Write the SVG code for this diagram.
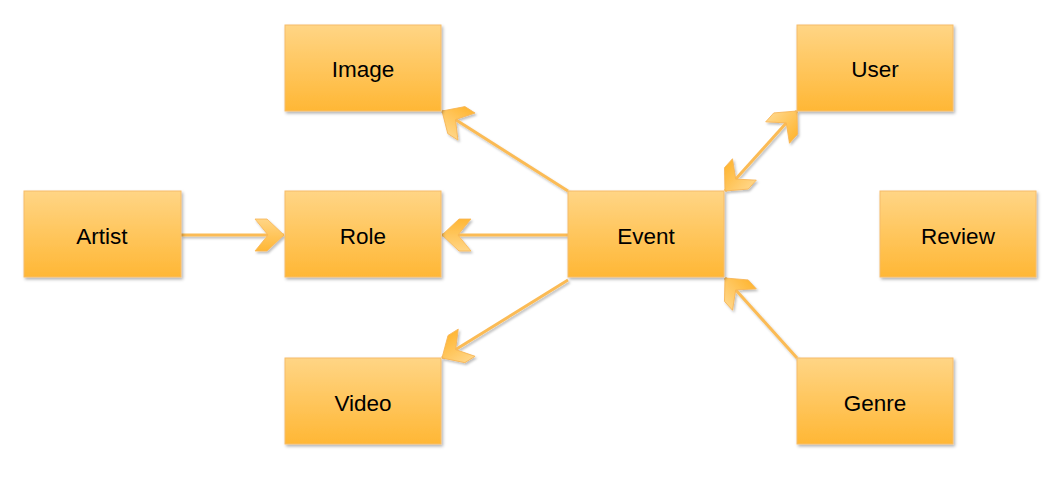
<svg xmlns="http://www.w3.org/2000/svg" width="1061" height="479" viewBox="0 0 1061 479">
<defs>
<linearGradient id="g" x1="0" y1="0" x2="0" y2="1">
<stop offset="0" stop-color="#FFD585"/>
<stop offset="1" stop-color="#FFB735"/>
</linearGradient>
<filter id="sh" x="-10%" y="-10%" width="130%" height="130%">
<feDropShadow dx="1.5" dy="2" stdDeviation="1.5" flood-color="#000" flood-opacity="0.3"/>
</filter>
<filter id="shl" filterUnits="userSpaceOnUse" x="0" y="0" width="1061" height="479">
<feDropShadow dx="1.5" dy="2" stdDeviation="1.2" flood-color="#000" flood-opacity="0.25"/>
</filter>
<marker id="a" markerUnits="userSpaceOnUse" markerWidth="40" markerHeight="40" viewBox="-32 -20 36 40" refX="0" refY="0" orient="auto-start-reverse">
<path d="M0,0 L-17,-16 L-29,-16 L-16,0 L-29,16 L-17,16 Z" fill="url(#g)" stroke="#F7B555" stroke-width="0.8"/>
</marker>
<style>
.box{fill:url(#g);stroke:#F6BC6A;stroke-width:1;filter:url(#sh)}
.t{font-family:"Liberation Sans",Arial,sans-serif;font-size:22.5px;fill:#000;text-anchor:middle;dominant-baseline:central}
.c{stroke:#FBBB55;stroke-width:3;fill:none}
</style>
</defs>
<g id="connectors" filter="url(#shl)">
<line class="c" x1="181" y1="235" x2="284" y2="235" marker-end="url(#a)"/>
<line class="c" x1="568" y1="235" x2="442" y2="235" marker-end="url(#a)"/>
<line class="c" x1="568" y1="191" x2="442" y2="111" marker-end="url(#a)"/>
<line class="c" x1="568" y1="280" x2="442" y2="358" marker-end="url(#a)"/>
<line class="c" x1="725" y1="191" x2="797" y2="111" marker-start="url(#a)" marker-end="url(#a)"/>
<line class="c" x1="797" y1="358" x2="725" y2="278" marker-end="url(#a)"/>
</g>
<g id="image"><rect class="box" x="285" y="25" width="156" height="86"/><text class="t" x="363" y="69">Image</text></g>
<g id="user"><rect class="box" x="797" y="25" width="156" height="86"/><text class="t" x="875" y="69">User</text></g>
<g id="artist"><rect class="box" x="24" y="191" width="157" height="86"/><text class="t" x="102" y="236">Artist</text></g>
<g id="role"><rect class="box" x="285" y="191" width="156" height="86"/><text class="t" x="363" y="236">Role</text></g>
<g id="event"><rect class="box" x="568" y="191" width="156" height="86"/><text class="t" x="646" y="236">Event</text></g>
<g id="review"><rect class="box" x="880" y="191" width="156" height="86"/><text class="t" x="958" y="236">Review</text></g>
<g id="video"><rect class="box" x="285" y="358" width="156" height="86"/><text class="t" x="363" y="403">Video</text></g>
<g id="genre"><rect class="box" x="797" y="358" width="156" height="86"/><text class="t" x="875" y="403">Genre</text></g>
</svg>
